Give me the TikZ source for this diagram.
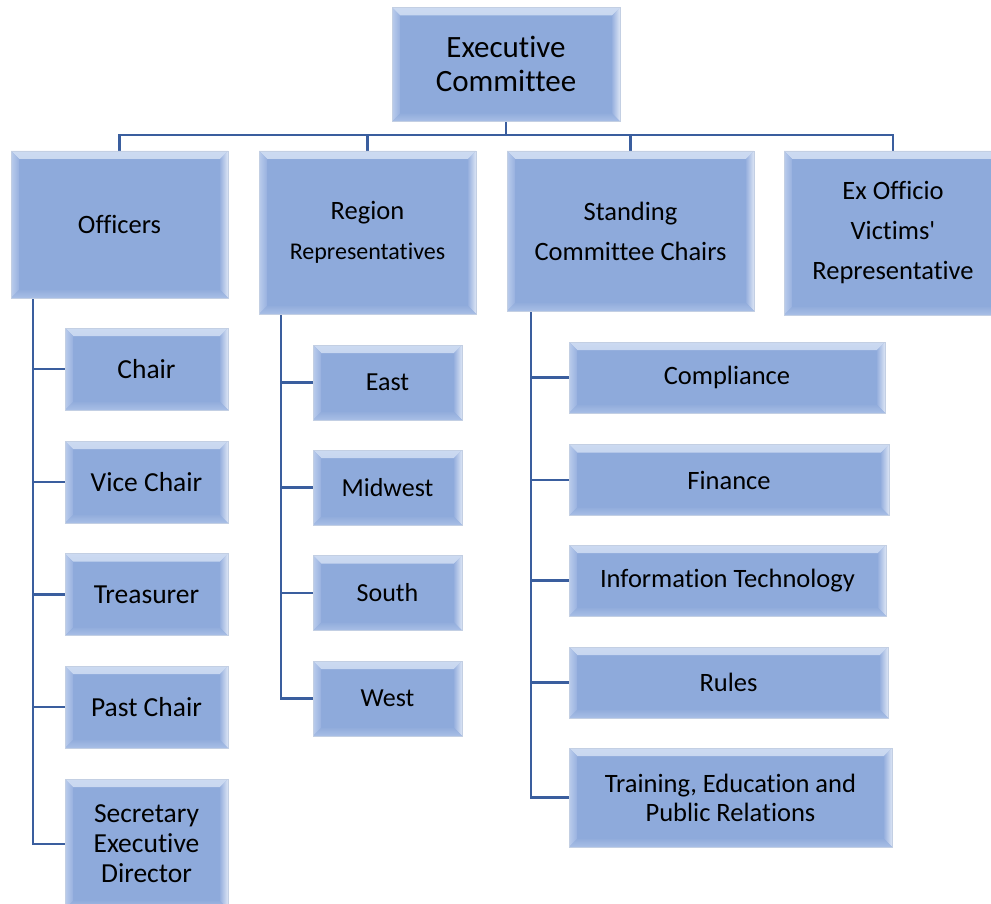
\documentclass[tikz,border=0pt]{standalone}
\usepackage{fontspec}
% plain family: no TeX quote mapping, so ' stays a straight apostrophe
\newfontfamily\bodyfont{Carlito}[Ligatures=NoCommon]
\usetikzlibrary{calc,backgrounds}

\definecolor{boxfill}{HTML}{8EAADB}
\definecolor{boxedge}{HTML}{C3CFE3}
\definecolor{bevtopout}{HTML}{CCDAF1}
\definecolor{bevtopin}{HTML}{9EB6E2}
\definecolor{bevleftout}{HTML}{BACCEC}
\definecolor{bevleftin}{HTML}{98B1DF}
\definecolor{bevrightout}{HTML}{DCE5F5}
\definecolor{bevrightin}{HTML}{97B0DE}
\definecolor{bevbotout}{HTML}{A9BFE6}
\definecolor{bevbotin}{HTML}{92ADDC}
\definecolor{linkblue}{HTML}{3A5E9E}

\newcommand\bevw{8pt}
\newcommand\ppb[1]{path picture bounding box.#1}

\tikzset{
  bevelbox/.style={rectangle, inner sep=0pt, align=center,
    fill=boxfill, draw=boxedge, line width=0.8pt,
    path picture={
      % top face
      \shade[top color=bevtopout, bottom color=bevtopin]
        (\ppb{north west}) -- (\ppb{north east})
        -- ([shift={(-\bevw,-\bevw)}]\ppb{north east})
        -- ([shift={(\bevw,-\bevw)}]\ppb{north west}) -- cycle;
      % left face
      \shade[left color=bevleftout, right color=bevleftin]
        (\ppb{north west}) -- ([shift={(\bevw,-\bevw)}]\ppb{north west})
        -- ([shift={(\bevw,\bevw)}]\ppb{south west}) -- (\ppb{south west}) -- cycle;
      % right face
      \shade[left color=bevrightin, right color=bevrightout]
        (\ppb{north east}) -- ([shift={(-\bevw,-\bevw)}]\ppb{north east})
        -- ([shift={(-\bevw,\bevw)}]\ppb{south east}) -- (\ppb{south east}) -- cycle;
      % bottom face
      \shade[top color=bevbotin, bottom color=bevbotout]
        (\ppb{south west}) -- ([shift={(\bevw,\bevw)}]\ppb{south west})
        -- ([shift={(-\bevw,\bevw)}]\ppb{south east}) -- (\ppb{south east}) -- cycle;
    }},
  topbox/.style={bevelbox, font=\bodyfont\fontsize{31}{34}\selectfont},
  headbox/.style={bevelbox, font=\bodyfont\fontsize{26.5}{40}\selectfont},
  offbox/.style={bevelbox, minimum width=163pt, minimum height=82pt,
    font=\bodyfont\fontsize{27.5}{30}\selectfont},
  regbox/.style={bevelbox, minimum width=149pt, minimum height=75pt,
    font=\bodyfont\fontsize{26}{30}\selectfont},
  stdbox/.style={bevelbox, minimum height=71pt,
    font=\bodyfont\fontsize{26.5}{29}\selectfont},
  link/.style={draw=linkblue, line width=2.2pt},
}

\begin{document}
\begin{tikzpicture}[x=1pt,y=-1pt]
\useasboundingbox (0,0) rectangle (991,904);

% top level
\node[topbox, minimum width=228pt, minimum height=114pt] (exec) at (506,64.5)
  {\raisebox{2pt}{Executive}\\\raisebox{2pt}{Committee}};

% second row
\node[headbox, minimum width=217pt, minimum height=147pt] (off) at (119.5,224.5) {Officers};
\node[headbox, minimum width=217pt, minimum height=163pt] (reg) at (367.5,232.5)
  {Region\\{\fontsize{24}{40}\selectfont Representatives}};
\node[headbox, minimum width=247pt, minimum height=160pt] (std) at (630.5,231)
  {Standing\\Committee Chairs};
\node[headbox, minimum width=218pt, minimum height=164pt] (exo) at (893,233)
  {Ex Officio\\Victims'\\Representative};

% officers
\node[offbox] (chair) at (146.5,369) {Chair};
\node[offbox] (vice)  at (146.5,482) {Vice Chair};
\node[offbox] (treas) at (146.5,594.5) {Treasurer};
\node[offbox] (past)  at (146.5,707) {Past Chair};
\node[offbox, minimum height=130pt] (sec) at (146.5,844) {Secretary\\Executive\\Director};

% regions
\node[regbox] (east)  at (387.5,382.5) {East};
\node[regbox] (midw)  at (387.5,487.5) {Midwest};
\node[regbox] (south) at (387.5,593) {South};
\node[regbox] (west)  at (387.5,698.5) {West};

% standing committees
\node[stdbox, minimum width=316pt] (comp) at (727,377.5) {Compliance};
\node[stdbox, minimum width=320pt] (fin)  at (729,480) {Finance};
\node[stdbox, minimum width=317pt] (it)   at (727.5,580.5) {Information Technology};
\node[stdbox, minimum width=319pt] (rules) at (728.5,682.5) {Rules};
\node[stdbox, minimum width=323pt, minimum height=99pt] (tepr) at (730.5,797.5)
  {Training, Education and\\Public Relations};

% connectors
\coordinate (bus) at (506,135);
\coordinate (offspine) at (33,298);
\coordinate (regspine) at (281,314);
\coordinate (stdspine) at (531,311);

\begin{scope}[on background layer]
  \draw[link] (exec.south) -- (bus);
  \draw[link] (off.north) |- (exo.north |- bus) -- (exo.north);
  \draw[link] (reg.north) -- (reg.north |- bus);
  \draw[link] (std.north) -- (std.north |- bus);

  \draw[link] (offspine) |- (sec.west);
  \foreach \c in {chair,vice,treas,past}
    \draw[link] (offspine |- \c.west) -- (\c.west);

  \draw[link] (regspine) |- (west.west);
  \foreach \c in {east,midw,south}
    \draw[link] (regspine |- \c.west) -- (\c.west);

  \draw[link] (stdspine) |- (tepr.west);
  \foreach \c in {comp,fin,it,rules}
    \draw[link] (stdspine |- \c.west) -- (\c.west);
\end{scope}
\end{tikzpicture}
\end{document}
